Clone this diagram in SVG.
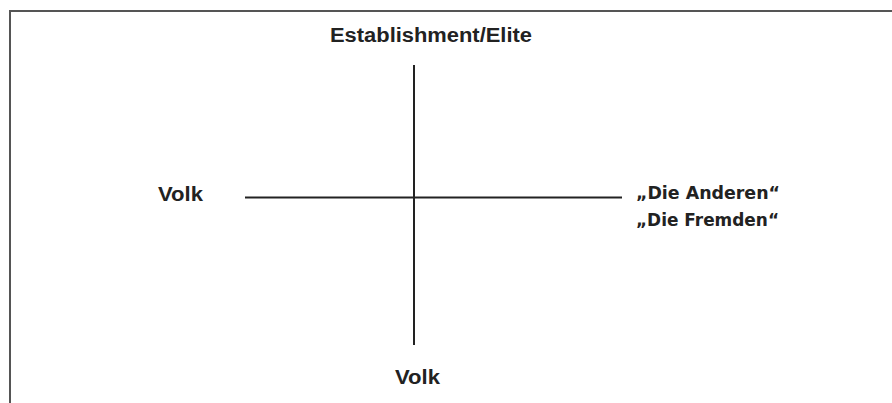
<svg xmlns="http://www.w3.org/2000/svg" width="892" height="403" viewBox="0 0 892 403">
<style>
.frame{fill:none;stroke:#555;stroke-width:2}
.axis{stroke:#222;stroke-width:2;fill:none}
.lbl{font-family:"Liberation Sans",Arial,sans-serif;font-weight:bold;font-size:20px;fill:#222}
.lbl2{font-family:"DejaVu Sans",Verdana,sans-serif;font-weight:bold;font-size:17px;fill:#222}
</style>
<rect width="892" height="403" fill="#fff"/>
<path class="frame" d="M10,403 V11 H892"/>
<g id="connectors">
<line class="axis" x1="414" y1="65" x2="414" y2="345"/>
<line class="axis" x1="245" y1="197.5" x2="622" y2="197.5"/>
</g>
<g id="top"><text class="lbl" x="330" y="42" textLength="202" lengthAdjust="spacingAndGlyphs">Establishment/Elite</text></g>
<g id="left"><text class="lbl" x="158" y="201" textLength="45" lengthAdjust="spacingAndGlyphs">Volk</text></g>
<g id="bottom"><text class="lbl" x="395" y="384" textLength="45" lengthAdjust="spacingAndGlyphs">Volk</text></g>
<g id="right">
<text class="lbl2" x="636" y="199" textLength="144" lengthAdjust="spacingAndGlyphs">„Die Anderen“</text>
<text class="lbl2" x="636" y="226" textLength="143" lengthAdjust="spacingAndGlyphs">„Die Fremden“</text>
</g>
</svg>
